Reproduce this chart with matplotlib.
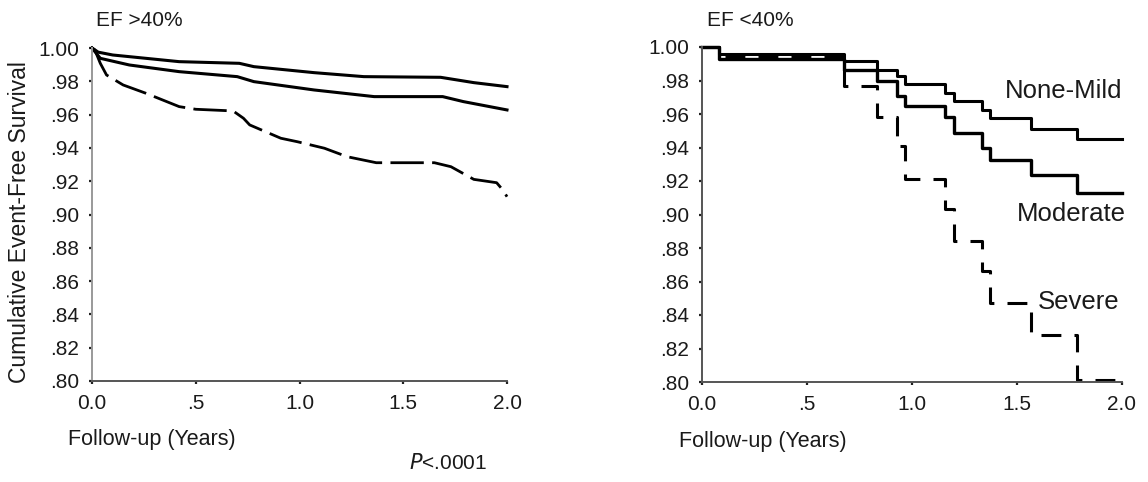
import matplotlib
matplotlib.use("Agg")
import matplotlib.pyplot as plt

plt.rcParams["font.family"] = ["Liberation Sans", "DejaVu Sans"]

# left panel: EF >40%
left_t_top = [0, 0.03, 0.10, 0.42, 0.71, 0.78, 1.07, 1.31, 1.68, 1.84, 2.0]
left_s_top = [1.0, 0.9975, 0.9958, 0.9918, 0.9908, 0.9888, 0.9852, 0.9828, 0.9824, 0.9792, 0.9768]
left_t_mid = [0, 0.04, 0.18, 0.42, 0.70, 0.78, 1.07, 1.36, 1.69, 1.79, 2.0]
left_s_mid = [1.0, 0.9938, 0.9898, 0.9858, 0.9828, 0.9798, 0.9748, 0.9708, 0.9708, 0.9678, 0.9628]
left_t_low = [0, 0.014, 0.04, 0.07, 0.15, 0.26, 0.42, 0.50, 0.68, 0.73, 0.76, 0.91,
              0.99, 1.12, 1.23, 1.37, 1.65, 1.73, 1.84, 1.95, 1.98, 2.0]
left_s_low = [1.0, 0.9988, 0.9908, 0.9838, 0.9778, 0.9728, 0.9648, 0.9632, 0.9622, 0.9578,
              0.9538, 0.9458, 0.9437, 0.9398, 0.9347, 0.9311, 0.9311, 0.9287, 0.9211,
              0.9191, 0.9147, 0.9107]

# right panel: EF <40%, step curves sharing event times
right_t = [0, 0.08, 0.675, 0.835, 0.93, 0.965, 1.155, 1.20, 1.335, 1.37, 1.567, 1.785, 2.0]
none_mild = [1.0, 0.996, 0.9915, 0.9865, 0.9825, 0.978, 0.9725, 0.968, 0.9625, 0.9575, 0.951, 0.945, 0.945]
moderate = [1.0, 0.993, 0.9865, 0.980, 0.971, 0.9645, 0.958, 0.9485, 0.940, 0.9325, 0.9235, 0.913, 0.913]
severe = [1.0, 0.994, 0.9765, 0.958, 0.941, 0.921, 0.903, 0.884, 0.866, 0.847, 0.828, 0.801, 0.801]

y_ticks = [0.80, 0.82, 0.84, 0.86, 0.88, 0.90, 0.92, 0.94, 0.96, 0.98, 1.00]
y_labels = [".80", ".82", ".84", ".86", ".88", ".90", ".92", ".94", ".96", ".98", "1.00"]
x_ticks = [0, 0.5, 1.0, 1.5, 2.0]
x_labels = ["0.0", ".5", "1.0", "1.5", "2.0"]

txt = "#1a1a1a"
fs = 15

fig = plt.figure(figsize=(11.48, 4.82), dpi=100)
axL = fig.add_axes([92 / 1148, 1 - 381 / 482, 415 / 1148, 333 / 482])
axR = fig.add_axes([702 / 1148, 1 - 382 / 482, 420 / 1148, 335 / 482])

for ax in (axL, axR):
    ax.set_xlim(0, 2.0)
    ax.set_ylim(0.80, 1.00)
    ax.set_yticks(y_ticks)
    ax.set_yticklabels(y_labels)
    ax.set_xticks(x_ticks)
    ax.set_xticklabels(x_labels)
    for s in ("top", "right"):
        ax.spines[s].set_visible(False)
    for s in ("left", "bottom"):
        ax.spines[s].set_color("#555555")
        ax.spines[s].set_linewidth(1.4)
    ax.tick_params(direction="out", length=2.5, width=1.6, color="#222222",
                   labelsize=fs, labelcolor=txt, pad=7)
axL.spines["left"].set_color("#999999")

axL.plot(left_t_top, left_s_top, color="black", lw=2.2, clip_on=False)
axL.plot(left_t_mid, left_s_mid, color="black", lw=2.2, clip_on=False)
axL.plot(left_t_low, left_s_low, color="black", lw=2.0, ls=(0, (12, 3)), clip_on=False)

axR.plot(right_t, none_mild, color="black", lw=2.2, drawstyle="steps-post", clip_on=False)
axR.plot(right_t, moderate, color="black", lw=2.4, drawstyle="steps-post", clip_on=False)
axR.plot(right_t, severe, color="black", lw=2.2, drawstyle="steps-post",
         ls=(0, (6.5, 4.3)), clip_on=False)

axR.text(1.44, 0.9735, "None-Mild", fontsize=18.5, color=txt, va="center", ha="left")
axR.text(1.50, 0.9005, "Moderate", fontsize=18.5, color=txt, va="center", ha="left")
axR.text(1.60, 0.848, "Severe", fontsize=18.5, color=txt, va="center", ha="left")

fig.text(96 / 1148, 1 - 20 / 482, "EF >40%", fontsize=fs, color=txt, va="center", ha="left")
fig.text(707 / 1148, 1 - 20 / 482, "EF <40%", fontsize=fs, color=txt, va="center", ha="left")
fig.text(20 / 1148, 1 - 222 / 482, "Cumulative Event-Free Survival", fontsize=16.5,
         color=txt, rotation=90, va="center", ha="center")
fig.text(68 / 1148, 1 - 440 / 482, "Follow-up (Years)", fontsize=15.5, color=txt,
         va="center", ha="left")
fig.text(679 / 1148, 1 - 441 / 482, "Follow-up (Years)", fontsize=15.5, color=txt,
         va="center", ha="left")
fig.text(487 / 1148, 1 - 463 / 482, r"$\it{P}$<.0001", fontsize=fs, color=txt,
         va="center", ha="right")

fig.savefig("out.png", dpi=100, facecolor="white")
